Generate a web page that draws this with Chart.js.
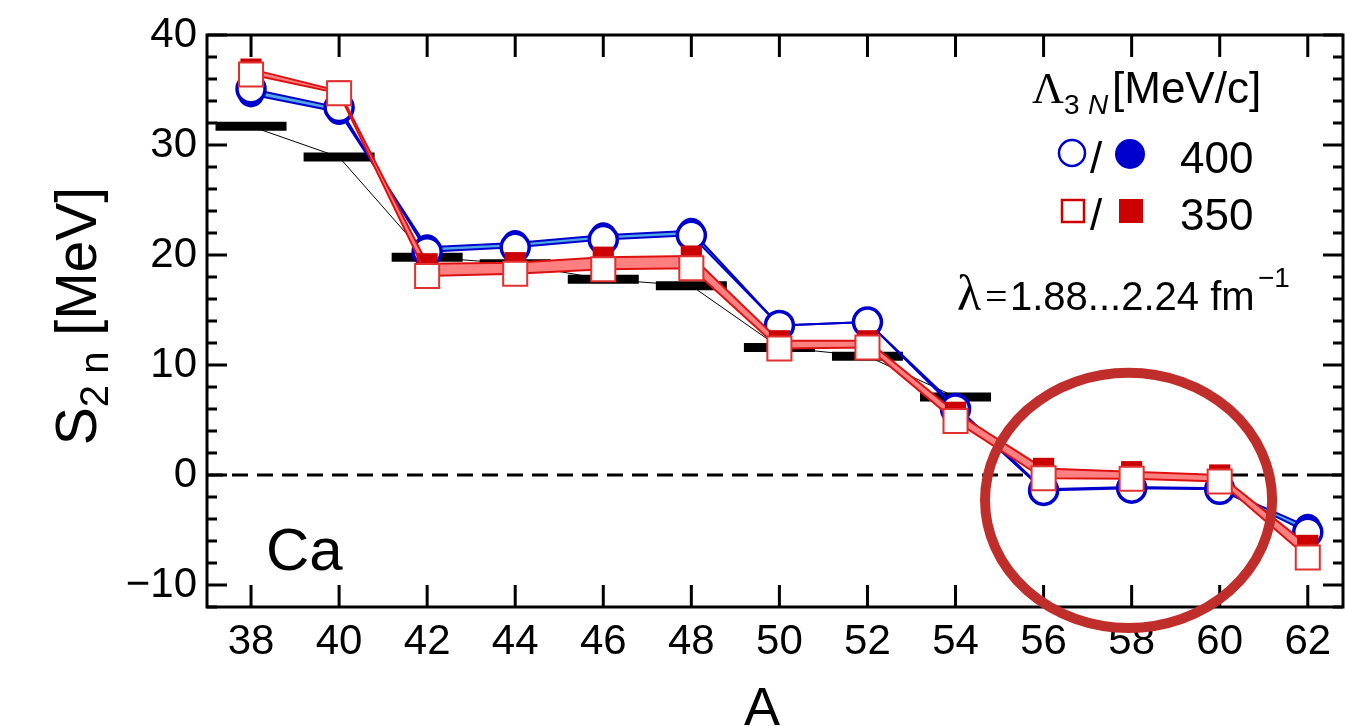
<!DOCTYPE html>
<html>
<head>
<meta charset="utf-8">
<script src="https://cdn.jsdelivr.net/npm/chart.js@4/dist/chart.umd.min.js"></script>
<style>
  html, body { margin: 0; padding: 0; background: #fff; overflow: hidden; }
</style>
</head>
<body>
<canvas id="s2n" width="1345" height="726"></canvas>
<script>
// mass numbers of the Ca isotopes
const massNumbers = [38, 40, 42, 44, 46, 48, 50, 52, 54, 56, 58, 60, 62];

// S2n [MeV], Lambda_3N = 400 MeV/c (open / filled markers = ends of the lambda band)
const s2n400Open   = [35.1, 33.4, 20.3, 20.7, 21.4, 21.8, 13.6, 13.9, 6.0, -1.4, -1.2, -1.3, -5.2];
const s2n400Filled = [34.6, 33.0, 20.7, 21.1, 21.8, 22.2, 13.6, 13.9, 6.3, -1.3, -1.1, -1.2, -4.7];

// S2n [MeV], Lambda_3N = 350 MeV/c
const s2n350Open   = [36.4, 34.7, 18.1, 18.3, 18.7, 18.8, 11.5, 11.6, 4.9, -0.3, -0.35, -0.6, -7.5];
const s2n350Filled = [36.9, 34.9, 19.2, 19.3, 19.8, 19.9, 12.2, 12.2, 5.7, 0.6, 0.3, 0.0, -6.4];

// experimental S2n [MeV] (measured up to A = 54)
const s2nExp = [31.7, 28.9, 19.8, 19.2, 17.8, 17.2, 11.6, 10.8, 7.1, null, null, null, null];

// axis ticks
const xTicks = [38, 40, 42, 44, 46, 48, 50, 52, 54, 56, 58, 60, 62];
const yTicks = [-10, 0, 10, 20, 30, 40];
const yMinorTicks = [-12, -8, -6, -4, -2, 2, 4, 6, 8, 12, 14, 16, 18, 22, 24, 26, 28, 32, 34, 36, 38];

const BLUE = '#0000cc';
const BLUE_BAND = '#4ea8e4';
const RED = '#dd1111';
const RED_DARK = '#cc0000';
const RED_BAND = '#ff8080';
const SANS = '"Liberation Sans", Arial, Helvetica, sans-serif';
const SERIF = '"Liberation Serif", "Times New Roman", serif';

const pts = (ys) => massNumbers
  .map((a, i) => ({ x: a, y: ys[i] }))
  .filter((p) => p.y !== null);

// dashed zero line, plot frame with inward ticks
const frame = {
  id: 'frame',
  beforeDatasetsDraw(chart) {
    const { ctx, chartArea: a, scales: { y } } = chart;
    const y0 = y.getPixelForValue(0);
    ctx.save();
    ctx.strokeStyle = '#000';
    ctx.lineWidth = 3;
    ctx.setLineDash([16, 9]);
    ctx.beginPath();
    ctx.moveTo(a.left, y0);
    ctx.lineTo(a.right, y0);
    ctx.stroke();
    ctx.restore();
  },
  afterDatasetsDraw(chart) {
    const { ctx, chartArea: a, scales: { x, y } } = chart;
    ctx.save();
    ctx.strokeStyle = '#000';
    ctx.lineWidth = 3;
    ctx.beginPath();
    xTicks.forEach((v) => {
      const px = x.getPixelForValue(v);
      ctx.moveTo(px, a.bottom); ctx.lineTo(px, a.bottom - 22);
      ctx.moveTo(px, a.top); ctx.lineTo(px, a.top + 22);
    });
    yTicks.forEach((v) => {
      const py = y.getPixelForValue(v);
      ctx.moveTo(a.left, py); ctx.lineTo(a.left + 20, py);
      ctx.moveTo(a.right, py); ctx.lineTo(a.right - 20, py);
    });
    yMinorTicks.forEach((v) => {
      const py = y.getPixelForValue(v);
      ctx.moveTo(a.left, py); ctx.lineTo(a.left + 10, py);
      ctx.moveTo(a.right, py); ctx.lineTo(a.right - 10, py);
    });
    ctx.stroke();
    ctx.strokeRect(a.left, a.top, a.right - a.left, a.bottom - a.top);
    ctx.restore();
  }
};

// axis titles, legend block, labels and the highlight ring
const texts = {
  id: 'texts',
  afterDraw(chart) {
    const { ctx, scales: { x, y } } = chart;
    ctx.save();
    ctx.fillStyle = '#000';
    ctx.textBaseline = 'alphabetic';

    // y title: S_2n [MeV]
    ctx.save();
    ctx.translate(96, 316);
    ctx.rotate(-Math.PI / 2);
    ctx.font = `57px ${SANS}`;
    const wS = ctx.measureText('S').width;
    const wRest = ctx.measureText(' [MeV]').width;
    ctx.font = `40px ${SANS}`;
    const wSub = ctx.measureText('2 n').width;
    let tx = -(wS + wSub + wRest) / 2;
    ctx.font = `57px ${SANS}`;
    ctx.fillText('S', tx, 0); tx += wS;
    ctx.font = `40px ${SANS}`;
    ctx.fillText('2 n', tx, 12); tx += wSub;
    ctx.font = `57px ${SANS}`;
    ctx.fillText(' [MeV]', tx, 0);
    ctx.restore();

    // x title
    ctx.font = `54px ${SANS}`;
    ctx.textAlign = 'center';
    ctx.fillText('A', 762, 725);
    ctx.textAlign = 'left';

    // element label
    ctx.font = `60px ${SANS}`;
    ctx.fillText('Ca', 266, 570);

    // legend header: Lambda_3N [MeV/c]
    ctx.font = `44px ${SERIF}`;
    ctx.fillText('\u039B', 1032, 103);
    ctx.font = `28px ${SANS}`;
    ctx.fillText('3', 1064, 114);
    ctx.font = `italic 28px ${SANS}`;
    ctx.fillText('N', 1088, 114);
    ctx.font = `44px ${SANS}`;
    ctx.fillText('[MeV/c]', 1112, 103);

    // legend rows
    ctx.lineWidth = 2.5;
    ctx.strokeStyle = BLUE;
    ctx.beginPath(); ctx.arc(1072, 153, 13, 0, Math.PI * 2); ctx.stroke();
    ctx.fillStyle = BLUE;
    ctx.beginPath(); ctx.arc(1130, 154, 15, 0, Math.PI * 2); ctx.fill();
    ctx.strokeStyle = RED_DARK;
    ctx.strokeRect(1062, 200, 22, 22);
    ctx.fillStyle = RED_DARK;
    ctx.fillRect(1119, 199, 24, 24);
    ctx.fillStyle = '#000';
    ctx.font = `44px ${SANS}`;
    ctx.fillText('/', 1090, 173);
    ctx.fillText('400', 1180, 173);
    ctx.fillText('/', 1090, 230);
    ctx.fillText('350', 1180, 230);

    // lambda range
    ctx.font = `50px ${SERIF}`;
    ctx.fillText('\u03BB', 957, 310);
    ctx.font = `40px ${SERIF}`;
    ctx.fillText('=', 985, 310);
    ctx.font = `40px ${SANS}`;
    ctx.fillText('1.88...2.24 fm', 1010, 310);
    ctx.font = `28px ${SANS}`;
    ctx.fillText('\u22121', 1258, 287);

    // highlight ring around the driplines region
    const cx = x.getPixelForValue(57.93);
    const cy = y.getPixelForValue(-2.3);
    const rx = x.getPixelForValue(57.93 + 3.26) - cx;
    const ry = cy - y.getPixelForValue(-2.3 + 11.6);
    ctx.strokeStyle = '#c02e2b';
    ctx.lineWidth = 10;
    ctx.beginPath();
    ctx.ellipse(cx, cy, rx, ry, 0, 0, Math.PI * 2);
    ctx.stroke();
    ctx.restore();
  }
};

new Chart(document.getElementById('s2n'), {
  type: 'line',
  data: {
    datasets: [
      {
        label: 'exp',
        data: pts(s2nExp),
        borderColor: '#000',
        borderWidth: 1,
        pointStyle: 'line',
        pointRadius: 35.5,
        pointBorderWidth: 9,
        pointBorderColor: '#000',
        fill: false,
        order: 5,
      },
      {
        label: '400 filled',
        data: pts(s2n400Filled),
        borderColor: BLUE,
        borderWidth: 2,
        pointStyle: 'circle',
        pointRadius: 13,
        pointBorderWidth: 0,
        pointBackgroundColor: BLUE,
        fill: { target: 2, above: BLUE_BAND, below: BLUE_BAND },
        order: 4,
      },
      {
        label: '400 open',
        data: pts(s2n400Open),
        borderColor: BLUE,
        borderWidth: 2,
        pointStyle: 'circle',
        pointRadius: 14,
        pointBorderWidth: 3.5,
        pointBorderColor: BLUE,
        pointBackgroundColor: '#fff',
        fill: false,
        order: 3,
      },
      {
        label: '350 filled',
        data: pts(s2n350Filled),
        borderColor: RED,
        borderWidth: 2,
        pointStyle: 'rect',
        pointRadius: 15,
        pointBorderWidth: 0,
        pointBackgroundColor: RED_DARK,
        fill: { target: 4, above: RED_BAND, below: RED_BAND },
        order: 2,
      },
      {
        label: '350 open',
        data: pts(s2n350Open),
        borderColor: RED,
        borderWidth: 2,
        pointStyle: 'rect',
        pointRadius: 17,
        pointBorderWidth: 2,
        pointBorderColor: '#e03030',
        pointBackgroundColor: '#fff',
        fill: false,
        order: 1,
      },
    ],
  },
  options: {
    responsive: false,
    animation: false,
    devicePixelRatio: 1,
    layout: { autoPadding: false, padding: { top: 35, right: 2, left: 0, bottom: 0 } },
    elements: { line: { tension: 0 } },
    scales: {
      x: {
        type: 'linear',
        min: 37,
        max: 62.8,
        grid: { display: false, drawTicks: false },
        border: { display: false },
        afterFit: (scale) => {
          scale.height = 119;
          scale.paddingLeft = 0;
          scale.paddingRight = 0;
        },
        afterBuildTicks: (scale) => { scale.ticks = xTicks.map((v) => ({ value: v })); },
        ticks: {
          color: '#000',
          padding: 10,
          maxRotation: 0,
          font: { family: SANS, size: 42 },
        },
      },
      y: {
        type: 'linear',
        min: -12,
        max: 40,
        grid: { display: false, drawTicks: false },
        border: { display: false },
        afterFit: (scale) => {
          scale.width = 207;
          scale.paddingTop = 0;
          scale.paddingBottom = 0;
        },
        afterBuildTicks: (scale) => { scale.ticks = yTicks.map((v) => ({ value: v })); },
        ticks: {
          color: '#000',
          padding: 10,
          font: { family: SANS, size: 42 },
          callback: (v) => String(v).replace('-', '\u2212'),
        },
      },
    },
    plugins: {
      legend: { display: false },
      tooltip: { enabled: false },
    },
  },
  plugins: [frame, texts],
});
</script>
</body>
</html>
